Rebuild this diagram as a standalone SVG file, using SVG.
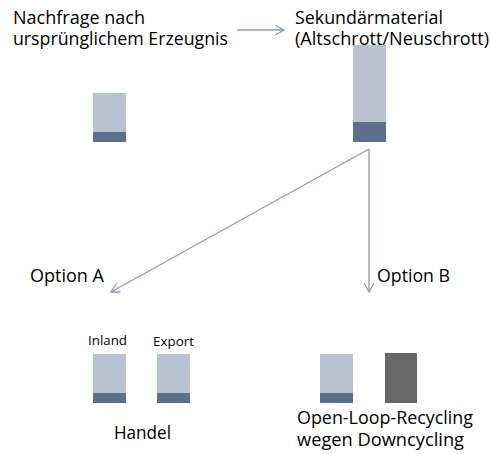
<svg xmlns="http://www.w3.org/2000/svg" width="491" height="454" viewBox="0 0 491 454">
<style>
text{font-family:"Open Sans","Liberation Sans",sans-serif;fill:#000}
.big{font-size:19px}
.small{font-size:12px}
.light{fill:#B8C2D1}
.dark{fill:#5E6F8D}
.gray{fill:#676767}
.conn{stroke:#8E9BB3;stroke-width:1.3;fill:none}
</style>
<defs>
<marker id="ah" viewBox="0 0 10 10" refX="9" refY="5" markerWidth="10" markerHeight="10" markerUnits="userSpaceOnUse" orient="auto">
<path d="M0,0 L9,5 L0,10" fill="none" stroke="#8E9BB3" stroke-width="1.3"/>
</marker>
</defs>
<rect width="491" height="454" fill="#fff"/>
<g id="connectors">
<line class="conn" x1="237" y1="30" x2="284" y2="30" marker-end="url(#ah)"/>
<line class="conn" x1="369" y1="149" x2="111" y2="292" marker-end="url(#ah)"/>
<line class="conn" x1="369" y1="149" x2="369" y2="292" marker-end="url(#ah)"/>
</g>
<g id="demand">
<text class="big" x="13" y="24" textLength="132" lengthAdjust="spacingAndGlyphs">Nachfrage nach</text>
<text class="big" x="13" y="45" textLength="215" lengthAdjust="spacingAndGlyphs">ursprünglichem Erzeugnis</text>
<rect class="light" x="93" y="93" width="33" height="39"/>
<rect class="dark" x="93" y="132" width="33" height="10"/>
</g>
<g id="secondary">
<rect class="light" x="353" y="45" width="33" height="77"/>
<rect class="dark" x="353" y="122" width="33" height="20"/>
<text class="big" x="295" y="24" textLength="148" lengthAdjust="spacingAndGlyphs">Sekundärmaterial</text>
<text class="big" x="295" y="45" textLength="194" lengthAdjust="spacingAndGlyphs">(Altschrott/Neuschrott)</text>
</g>
<g id="optionA">
<text class="big" x="30" y="282" textLength="74" lengthAdjust="spacingAndGlyphs">Option A</text>
</g>
<g id="optionB">
<text class="big" x="377" y="282" textLength="73" lengthAdjust="spacingAndGlyphs">Option B</text>
</g>
<g id="handel">
<text class="small" x="88" y="345" textLength="39" lengthAdjust="spacingAndGlyphs">Inland</text>
<rect class="light" x="93" y="354" width="33" height="39"/>
<rect class="dark" x="93" y="393" width="33" height="10"/>
<text class="small" x="153" y="346" textLength="41" lengthAdjust="spacingAndGlyphs">Export</text>
<rect class="light" x="157" y="354" width="33" height="39"/>
<rect class="dark" x="157" y="393" width="33" height="10"/>
<text class="big" x="114" y="439" textLength="57" lengthAdjust="spacingAndGlyphs">Handel</text>
</g>
<g id="openloop">
<rect class="light" x="320" y="354" width="33" height="39"/>
<rect class="dark" x="320" y="393" width="33" height="10"/>
<rect class="gray" x="385" y="353" width="32" height="50"/>
<text class="big" x="297" y="424" textLength="176" lengthAdjust="spacingAndGlyphs">Open-Loop-Recycling</text>
<text class="big" x="297" y="446" textLength="167" lengthAdjust="spacingAndGlyphs">wegen Downcycling</text>
</g>
</svg>
